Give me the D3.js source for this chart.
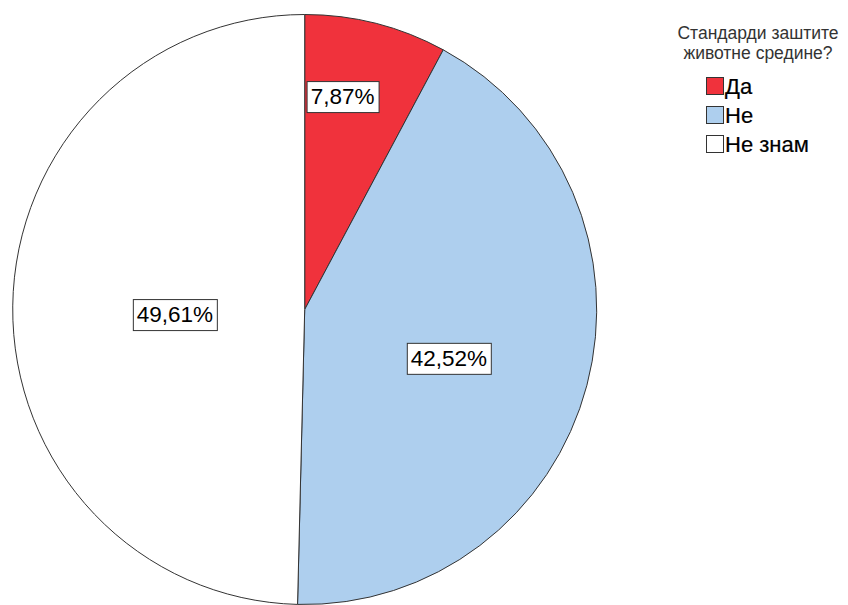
<!DOCTYPE html>
<html>
<head>
<meta charset="utf-8">
<script src="https://cdn.jsdelivr.net/npm/d3@7/dist/d3.min.js"></script>
<style>
  html, body { margin: 0; padding: 0; background: #fff; }
  svg { display: block; }
  text { font-family: "Liberation Sans", Arial, sans-serif; }
</style>
</head>
<body>
<svg id="chart" width="848" height="605"></svg>
<script>
// Survey answers and their shares (%)
const categories = ["Да", "Не", "Не знам"];
const shares = [7.87, 42.52, 49.61];
const legendTitle = ["Стандарди заштите", "животне средине?"];

// Look
const sliceColors = ["#F0323C", "#AECFEE", "#FFFFFF"];
const edgeColor = "#333333";

// Layout
const W = 848, H = 605;
const cx = 304.7, cy = 309.5, rx = 292, ry = 295;
// where each percentage box sits: angle shift (deg) from slice middle and distance as a fraction of radius
const labelPlacement = [
  { shift: -4.0, dist: 0.735 },
  { shift: 3.5, dist: 0.52 },
  { shift: -2.7, dist: 0.445 }
];

const svg = d3.select("#chart");

const pie = d3.pie().sort(null).value(d => d)
  .startAngle(0).endAngle(2 * Math.PI);
const arcs = pie(shares);

const arc = d3.arc().innerRadius(0).outerRadius(rx);

const g = svg.append("g")
  .attr("transform", `translate(${cx},${cy}) scale(1,${ry / rx})`);

g.selectAll("path.slice")
  .data(arcs)
  .join("path")
  .attr("class", "slice")
  .attr("d", arc)
  .attr("fill", (d, i) => sliceColors[i])
  .attr("stroke", edgeColor)
  .attr("stroke-width", 1)
  .attr("vector-effect", "non-scaling-stroke")
  .attr("stroke-linejoin", "round");

// percentage labels in boxes
const fmt = v => d3.format(".2f")(v).replace(".", ",") + "%";
const labels = svg.append("g");
arcs.forEach((a, i) => {
  const p = labelPlacement[i];
  const ang = (a.startAngle + a.endAngle) / 2 + p.shift * Math.PI / 180;
  const x = cx + Math.sin(ang) * rx * p.dist;
  const y = cy - Math.cos(ang) * ry * p.dist;
  const lg = labels.append("g").attr("transform", `translate(${x},${y})`);
  const t = lg.append("text")
    .attr("text-anchor", "middle")
    .attr("dy", "0.36em")
    .attr("font-size", 22.5)
    .attr("fill", "#000")
    .text(fmt(a.data));
  const bb = t.node().getBBox();
  lg.insert("rect", "text")
    .attr("x", Math.round(bb.x - 4) + 0.5)
    .attr("y", Math.round(-15) + 0.5)
    .attr("width", Math.round(bb.width + 8))
    .attr("height", 31)
    .attr("fill", "#fff")
    .attr("stroke", edgeColor)
    .attr("stroke-width", 1);
});

// legend
const legend = svg.append("g");
legend.selectAll("text.title")
  .data(legendTitle)
  .join("text")
  .attr("class", "title")
  .attr("x", 758)
  .attr("y", (d, i) => 39 + i * 20)
  .attr("text-anchor", "middle")
  .attr("font-size", 17.5)
  .attr("fill", "#333")
  .text(d => d);

const items = legend.selectAll("g.item")
  .data(categories)
  .join("g")
  .attr("class", "item")
  .attr("transform", (d, i) => `translate(706,${77 + i * 29})`);
items.append("rect")
  .attr("x", 0.5).attr("y", 0.5)
  .attr("width", 17).attr("height", 17)
  .attr("fill", (d, i) => sliceColors[i])
  .attr("stroke", edgeColor)
  .attr("stroke-width", 1);
items.append("text")
  .attr("x", 19)
  .attr("y", 17)
  .attr("font-size", 22)
  .attr("fill", "#000")
  .attr("stroke", "#000")
  .attr("stroke-width", 0.2)
  .text(d => d);
</script>
</body>
</html>
